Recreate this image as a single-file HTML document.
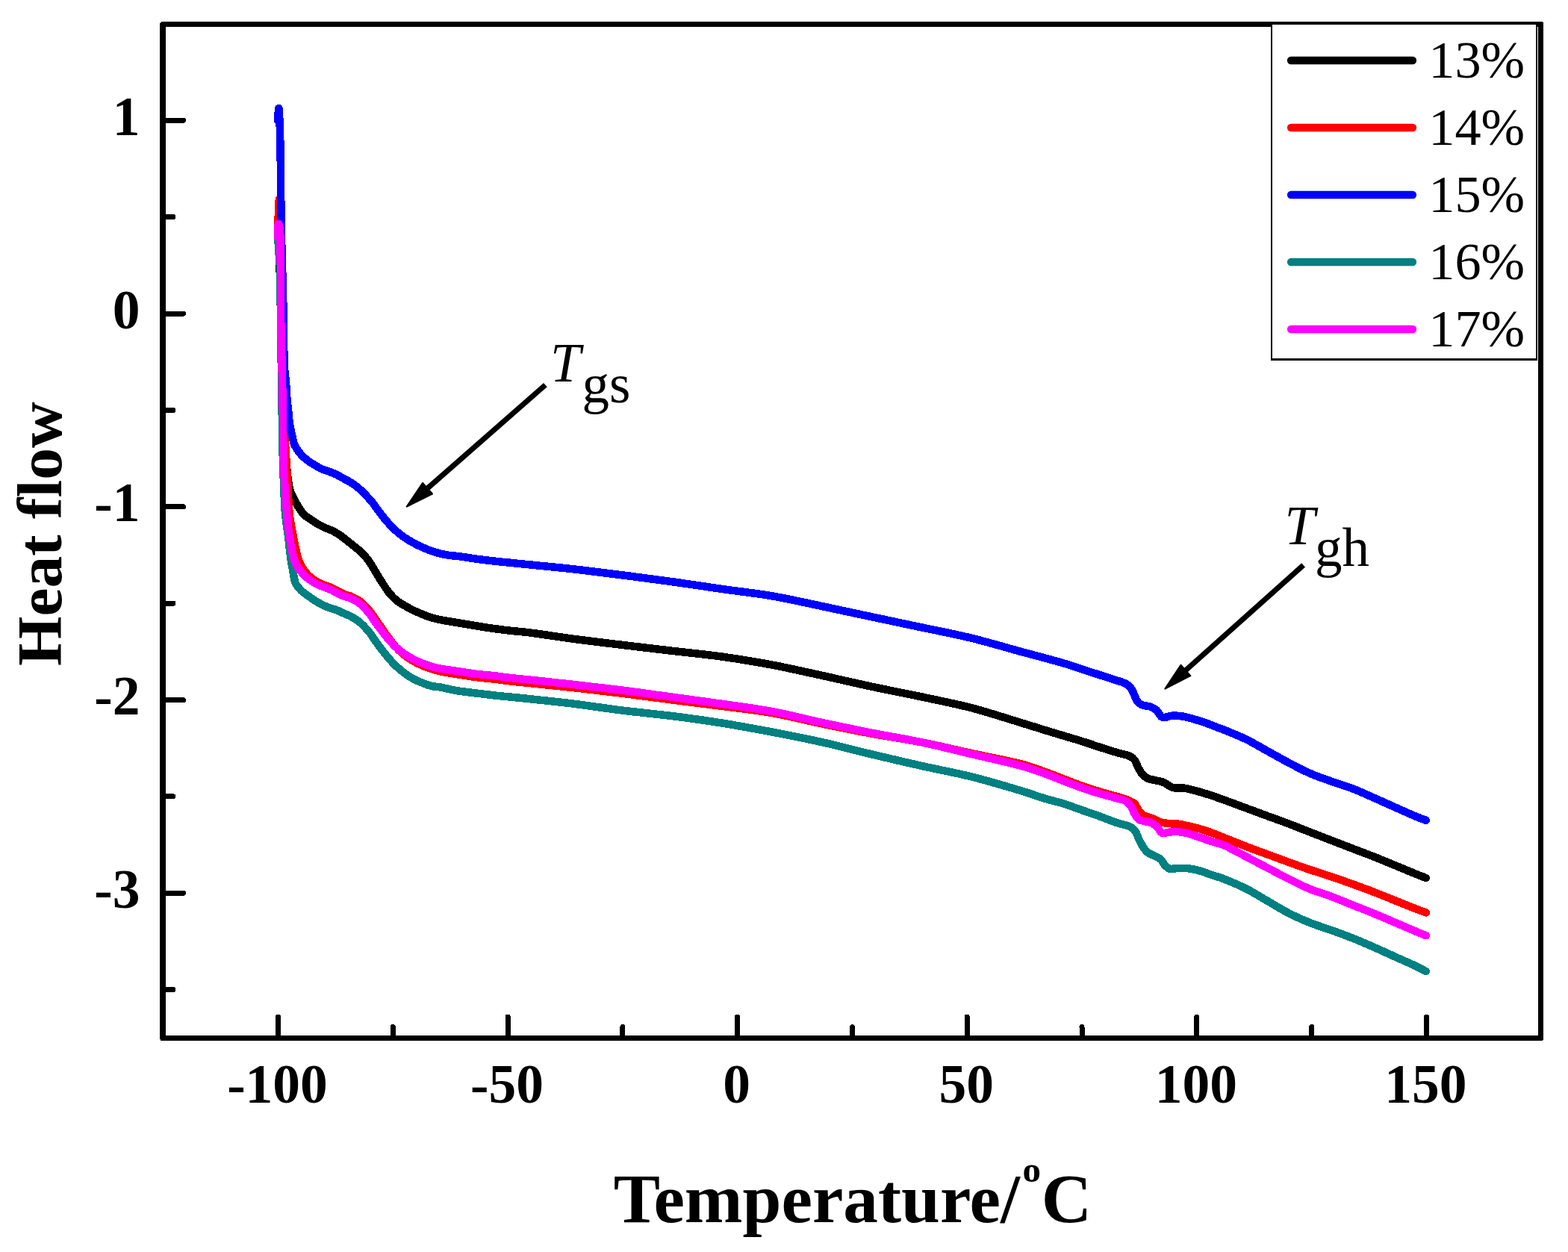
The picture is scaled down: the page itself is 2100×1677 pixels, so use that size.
<!DOCTYPE html>
<html lang="en">
<head>
<meta charset="utf-8">
<title>Heat flow vs Temperature</title>
<style>
html,body{margin:0;padding:0;background:#fff;}
body{width:2100px;height:1677px;overflow:hidden;}
svg{display:block;}
text{font-family:"Liberation Serif",serif;fill:#000;}
.tk{font-weight:bold;font-size:73.5px;}
.lg{font-size:70.3px;}
.an{font-size:73px;}
</style>
</head>
<body>
<svg width="2100" height="1677" viewBox="0 0 2100 1677">
<rect x="0" y="0" width="2100" height="1677" fill="#fff"/>
<g fill="none" stroke-linejoin="round" stroke-linecap="round" shape-rendering="crispEdges">
<path d="M372.4 322.0C372.9 328.0 373.8 334.0 374.0 340.0C375.0 366.7 375.4 393.3 376.0 420.0C376.7 453.3 377.0 486.7 378.0 520.0C378.6 540.0 379.9 560.0 381.0 580.0C381.7 592.0 382.5 604.0 383.4 616.0C383.8 622.3 384.2 628.7 384.9 635.0C385.6 641.4 386.3 647.8 387.7 654.0C388.5 657.4 390.0 660.5 391.5 663.6C394.0 668.8 396.6 674.0 399.6 678.9C401.9 682.6 404.2 686.4 407.3 689.5C410.0 692.2 413.6 694.0 416.8 696.2C419.9 698.3 423.0 700.5 426.3 702.4C429.4 704.2 432.6 705.7 435.9 707.2C439.0 708.6 442.3 709.5 445.4 711.0C448.7 712.7 451.9 714.6 455.0 716.7C458.3 718.9 461.4 721.5 464.5 723.9C467.7 726.4 470.9 728.9 474.0 731.5C477.2 734.1 480.6 736.6 483.6 739.5C487.0 742.8 490.3 746.4 493.1 750.2C496.7 755.1 499.5 760.4 502.7 765.5C505.9 770.7 508.9 775.9 512.2 781.0C515.3 785.7 518.3 790.5 521.8 794.8C524.7 798.3 527.8 801.6 531.3 804.5C534.4 807.1 538.1 808.9 541.6 811.0C545.5 813.3 549.4 815.5 553.5 817.5C557.4 819.4 561.4 821.1 565.4 822.7C569.3 824.3 573.3 825.8 577.3 827.1C581.2 828.3 585.3 829.3 589.3 830.1C597.2 831.7 605.2 832.9 613.1 834.2C621.1 835.6 629.0 836.9 637.0 838.2C644.9 839.5 652.8 840.8 660.8 841.9C668.8 843.0 676.7 844.0 684.7 844.9C692.7 845.8 700.7 846.3 708.6 847.3C728.0 849.8 747.4 853.0 766.8 855.6C789.0 858.6 811.3 861.2 833.6 863.9C855.9 866.6 878.1 869.2 900.4 871.8C922.7 874.4 945.0 876.5 967.2 879.6C989.5 882.7 1011.8 886.4 1034.0 890.6C1056.4 894.8 1078.6 900.0 1100.8 904.8C1123.1 909.7 1145.3 914.9 1167.6 919.7C1189.8 924.5 1212.2 928.7 1234.4 933.4C1256.7 938.2 1279.1 942.5 1301.1 948.2C1323.6 954.1 1345.7 961.5 1367.9 968.2C1378.6 971.5 1389.3 974.9 1400.0 978.2C1408.0 980.6 1415.9 983.0 1423.9 985.4C1431.8 987.8 1439.8 990.0 1447.7 992.5C1455.7 995.0 1463.6 997.8 1471.6 1000.4C1479.5 1003.0 1487.4 1005.5 1495.4 1007.9C1501.3 1009.7 1507.6 1010.5 1513.3 1013.0C1516.0 1014.1 1518.3 1016.2 1520.0 1018.5C1521.9 1021.1 1522.4 1024.6 1524.0 1027.5C1525.8 1030.8 1527.6 1034.2 1530.0 1037.1C1531.8 1039.3 1534.1 1041.2 1536.6 1042.5C1539.5 1043.9 1542.9 1044.2 1546.0 1045.0C1550.0 1046.0 1554.2 1046.3 1558.0 1047.8C1562.5 1049.6 1566.0 1053.6 1570.6 1054.9C1575.2 1056.2 1580.2 1054.8 1584.9 1055.5C1591.0 1056.4 1596.9 1058.0 1602.8 1059.6C1608.8 1061.2 1614.8 1063.1 1620.7 1065.0C1627.2 1067.1 1633.6 1069.4 1640.0 1071.7C1649.6 1075.2 1659.1 1078.8 1668.6 1082.3C1678.1 1085.8 1687.7 1089.4 1697.2 1092.9C1706.8 1096.4 1716.4 1099.8 1725.9 1103.4C1735.5 1107.0 1745.0 1110.9 1754.5 1114.6C1764.0 1118.3 1773.6 1122.0 1783.1 1125.7C1792.6 1129.4 1802.2 1133.0 1811.7 1136.7C1821.3 1140.4 1830.9 1143.9 1840.4 1147.7C1850.0 1151.5 1859.5 1155.5 1869.0 1159.4C1878.5 1163.3 1888.0 1167.4 1897.6 1171.3C1901.6 1172.9 1905.7 1174.4 1909.8 1175.9" stroke="#000000" stroke-width="10.5"/>
<path d="M373.8 267.0C373.5 273.0 373.2 279.0 373.0 285.0C372.7 291.7 372.0 298.3 372.3 305.0C372.8 315.0 375.1 325.0 375.5 335.0C376.7 363.3 376.4 391.7 377.0 420.0C377.6 446.7 378.3 473.3 379.0 500.0C379.6 523.3 380.2 546.7 381.0 570.0C381.4 582.0 382.0 594.0 382.7 606.0C383.4 618.8 384.3 631.7 385.1 644.5C386.0 659.7 386.3 674.9 387.9 690.0C388.9 699.4 391.0 708.7 392.7 718.0C393.7 723.7 394.7 729.4 396.0 735.0C397.2 740.0 398.2 745.1 400.0 750.0C401.6 754.2 403.6 758.3 406.0 762.0C408.3 765.5 411.0 768.6 414.0 771.5C416.7 774.1 419.8 776.5 423.0 778.5C426.0 780.3 429.3 781.7 432.5 783.0C435.6 784.3 438.9 785.0 442.0 786.3C445.3 787.7 448.3 789.4 451.5 791.0C454.7 792.6 457.7 794.4 461.0 795.8C464.4 797.3 468.1 797.9 471.5 799.5C475.7 801.5 479.9 803.6 483.5 806.5C488.0 810.1 491.9 814.5 495.5 819.0C499.9 824.4 503.5 830.3 507.5 836.0C511.4 841.5 515.0 847.1 519.0 852.5C522.5 857.3 526.0 862.1 530.0 866.5C533.6 870.5 537.5 874.1 541.6 877.5C545.3 880.5 549.4 883.1 553.5 885.5C557.3 887.7 561.3 889.6 565.4 891.4C569.3 893.1 573.3 894.6 577.3 895.9C581.2 897.2 585.2 898.4 589.3 899.2C597.2 900.8 605.2 902.0 613.1 903.3C621.1 904.6 629.0 906.0 637.0 907.0C644.9 908.0 652.9 908.6 660.8 909.5C668.8 910.4 676.7 911.6 684.7 912.5C692.7 913.4 700.6 914.2 708.6 915.0C728.0 917.0 747.4 918.9 766.8 921.0C789.1 923.5 811.4 926.1 833.6 928.8C855.9 931.6 878.1 934.6 900.4 937.5C922.7 940.3 944.9 943.0 967.2 945.9C989.5 948.8 1011.9 951.1 1034.0 955.0C1056.4 958.9 1078.5 964.8 1100.8 969.4C1123.0 974.0 1145.3 978.5 1167.6 982.7C1189.8 986.8 1212.2 989.9 1234.4 994.3C1256.7 998.7 1278.9 1004.2 1301.1 1009.0C1323.4 1013.9 1345.8 1017.8 1367.9 1023.4C1378.8 1026.2 1389.4 1030.2 1400.0 1034.0C1408.0 1036.8 1415.9 1040.2 1423.9 1043.2C1431.8 1046.2 1439.7 1049.4 1447.7 1052.2C1455.6 1055.0 1463.6 1057.5 1471.6 1060.0C1479.5 1062.4 1487.5 1064.5 1495.4 1066.8C1499.4 1068.0 1503.4 1068.9 1507.3 1070.4C1511.4 1072.0 1515.9 1073.4 1519.3 1076.3C1522.1 1078.8 1522.9 1082.9 1525.2 1085.9C1526.9 1088.1 1528.8 1090.4 1531.2 1091.8C1534.9 1093.9 1539.2 1094.4 1543.1 1096.0C1547.2 1097.6 1550.9 1100.1 1555.1 1101.4C1558.9 1102.6 1563.0 1102.8 1567.0 1103.2C1571.0 1103.6 1575.0 1103.3 1578.9 1103.8C1582.9 1104.3 1586.8 1105.3 1590.8 1106.2C1594.8 1107.1 1598.8 1108.0 1602.8 1109.1C1606.8 1110.2 1610.8 1111.4 1614.7 1112.7C1618.7 1114.0 1622.7 1115.4 1626.6 1116.9C1631.1 1118.6 1635.5 1120.4 1640.0 1122.2C1649.5 1126.0 1659.0 1130.0 1668.6 1133.7C1678.1 1137.4 1687.7 1140.8 1697.2 1144.3C1706.8 1147.8 1716.3 1151.4 1725.9 1154.9C1735.4 1158.3 1744.9 1161.8 1754.5 1165.0C1764.0 1168.2 1773.6 1171.1 1783.1 1174.3C1792.7 1177.5 1802.2 1180.9 1811.7 1184.3C1821.3 1187.8 1830.9 1191.3 1840.4 1195.0C1850.0 1198.7 1859.5 1202.7 1869.0 1206.5C1878.5 1210.3 1888.0 1214.2 1897.6 1217.9C1901.6 1219.5 1905.7 1220.9 1909.8 1222.4" stroke="#ff0000" stroke-width="10.5"/>
<path d="M372.0 161.0C372.5 156.0 373.1 141.0 373.5 146.0C375.1 163.9 375.1 182.0 375.5 200.0C376.2 233.3 376.1 266.7 376.6 300.0C376.8 313.3 377.3 326.7 377.6 340.0C377.9 351.3 378.2 362.7 378.5 374.0C378.9 389.3 379.3 404.7 379.6 420.0C380.0 441.0 380.0 462.0 380.5 483.0C380.6 488.3 381.1 493.7 381.5 499.0C381.7 501.7 382.2 504.3 382.5 507.0C382.9 511.0 383.2 515.0 383.5 519.0C383.8 522.7 383.8 526.3 384.1 530.0C384.6 536.3 385.4 542.7 386.0 549.0C386.7 555.3 387.0 561.7 388.0 568.0C389.0 574.5 390.5 580.9 392.0 587.3C392.8 590.5 393.3 593.9 394.8 596.8C397.1 601.3 400.1 605.4 403.4 609.2C405.9 612.1 409.0 614.5 412.0 616.8C415.0 619.1 418.3 621.0 421.6 623.0C424.7 624.9 427.8 626.8 431.1 628.3C434.2 629.7 437.5 630.4 440.6 631.6C443.8 632.8 447.1 633.9 450.2 635.4C453.5 637.0 456.5 639.0 459.7 640.7C462.9 642.5 466.2 644.0 469.3 645.9C472.6 647.9 475.8 650.1 478.8 652.6C482.2 655.4 485.3 658.6 488.4 661.7C491.7 665.0 494.9 668.4 497.9 672.0C500.7 675.4 503.1 679.3 505.8 682.8C509.7 687.9 513.5 693.1 517.7 698.0C521.4 702.3 525.4 706.5 529.6 710.4C533.4 713.8 537.4 717.0 541.6 719.9C545.4 722.6 549.4 724.9 553.5 727.1C557.4 729.2 561.4 731.2 565.4 733.0C569.3 734.8 573.3 736.4 577.3 737.8C581.2 739.2 585.2 740.4 589.3 741.4C593.2 742.4 597.2 743.2 601.2 743.8C605.1 744.4 609.1 744.5 613.1 745.0C621.1 746.0 629.0 747.4 637.0 748.5C644.9 749.6 652.9 750.6 660.8 751.5C668.8 752.4 676.7 753.1 684.7 753.9C692.7 754.7 700.6 755.5 708.6 756.3C728.0 758.3 747.4 760.0 766.8 762.2C789.1 764.7 811.3 767.6 833.6 770.4C855.9 773.2 878.2 776.1 900.4 779.2C922.7 782.3 944.9 785.8 967.2 789.0C989.5 792.2 1011.8 794.5 1034.0 798.3C1056.4 802.2 1078.6 807.3 1100.8 812.0C1123.1 816.7 1145.3 821.6 1167.6 826.3C1189.9 831.0 1212.1 835.7 1234.4 840.4C1256.6 845.1 1279.0 849.3 1301.1 854.7C1323.5 860.2 1345.6 866.9 1367.9 873.0C1378.6 875.9 1389.3 878.7 1400.0 881.6C1408.0 883.8 1416.0 885.8 1423.9 888.2C1431.9 890.6 1439.8 893.3 1447.7 895.9C1455.7 898.5 1463.6 901.1 1471.6 903.7C1479.5 906.3 1487.5 908.8 1495.4 911.4C1499.4 912.7 1503.6 913.6 1507.3 915.6C1510.1 917.1 1512.6 919.1 1514.5 921.6C1516.7 924.4 1517.7 927.9 1519.3 931.1C1520.9 934.3 1521.7 937.9 1524.0 940.6C1525.8 942.7 1528.6 943.9 1531.2 944.8C1534.2 945.9 1537.7 945.5 1540.7 946.6C1543.7 947.7 1546.7 949.2 1549.1 951.4C1551.6 953.7 1552.5 957.4 1555.1 959.7C1556.3 960.8 1558.2 961.0 1559.8 960.9C1562.3 960.8 1564.6 959.5 1567.0 959.1C1569.0 958.7 1571.0 958.4 1573.0 958.5C1577.0 958.6 1581.0 959.0 1584.9 959.7C1588.9 960.4 1592.9 961.6 1596.8 962.7C1600.8 963.8 1604.8 965.0 1608.7 966.3C1612.7 967.6 1616.7 969.0 1620.7 970.5C1624.7 972.0 1628.6 973.7 1632.6 975.2C1635.1 976.1 1637.6 976.9 1640.0 977.9C1649.6 981.9 1659.3 985.6 1668.6 990.1C1678.4 994.9 1687.7 1000.6 1697.2 1005.8C1706.8 1011.1 1716.2 1016.5 1725.9 1021.6C1735.3 1026.6 1744.7 1031.6 1754.5 1035.9C1763.8 1040.0 1773.5 1043.2 1783.1 1046.6C1792.6 1050.0 1802.3 1052.8 1811.7 1056.4C1821.4 1060.2 1830.9 1064.6 1840.4 1068.8C1850.0 1073.0 1859.5 1077.4 1869.0 1081.6C1878.5 1085.8 1888.0 1090.2 1897.6 1094.2C1901.6 1095.9 1905.7 1097.3 1909.8 1098.8" stroke="#0000ff" stroke-width="10.5"/>
<path d="M372.4 322.0C372.9 329.7 373.5 337.3 374.0 345.0C374.4 351.7 375.2 358.3 375.3 365.0C375.8 390.0 375.7 415.0 376.0 440.0C376.3 460.0 376.7 480.0 377.0 500.0C377.5 533.3 377.8 566.7 378.5 600.0C378.9 620.0 379.7 640.0 380.5 660.0C380.9 670.0 381.3 680.0 382.2 690.0C383.1 699.4 384.8 708.7 386.0 718.0C387.1 727.0 387.8 736.0 389.0 745.0C389.9 752.0 391.2 759.0 392.5 765.9C393.5 771.0 393.7 776.3 395.8 781.0C397.5 784.8 400.5 788.0 403.4 791.0C405.9 793.6 409.1 795.5 412.0 797.6C415.2 799.9 418.3 802.2 421.6 804.3C424.7 806.3 427.8 808.1 431.1 809.8C434.2 811.4 437.4 812.8 440.6 814.0C443.7 815.2 447.1 815.7 450.2 816.9C453.5 818.1 456.5 819.8 459.7 821.2C463.1 822.7 466.7 824.0 470.0 825.8C474.1 828.1 478.3 830.5 481.9 833.5C486.3 837.2 490.2 841.5 493.9 846.0C498.2 851.3 501.7 857.3 505.8 862.8C509.7 868.0 513.5 873.3 517.7 878.3C521.5 882.8 525.4 887.3 529.6 891.4C533.4 895.0 537.4 898.4 541.6 901.5C545.4 904.3 549.3 907.0 553.5 909.3C557.3 911.4 561.4 913.0 565.4 914.6C569.3 916.2 573.2 917.8 577.3 918.8C581.2 919.8 585.3 919.7 589.3 920.4C593.3 921.1 597.2 922.2 601.2 923.0C605.2 923.8 609.1 924.8 613.1 925.4C621.0 926.6 629.0 927.4 637.0 928.4C644.9 929.4 652.9 930.4 660.8 931.3C668.8 932.2 676.7 932.9 684.7 933.7C692.7 934.5 700.6 935.2 708.6 936.1C728.0 938.2 747.4 940.1 766.8 942.5C789.1 945.3 811.3 948.8 833.6 951.6C855.8 954.4 878.2 956.3 900.4 959.1C922.7 961.9 945.0 965.0 967.2 968.6C989.5 972.2 1011.8 976.3 1034.0 980.5C1056.3 984.8 1078.6 989.1 1100.8 994.1C1123.2 999.1 1145.3 1005.1 1167.6 1010.4C1189.8 1015.7 1212.1 1020.9 1234.4 1025.9C1256.6 1030.9 1279.0 1034.9 1301.1 1040.4C1323.5 1046.0 1345.7 1052.7 1367.9 1059.3C1378.7 1062.5 1389.2 1066.5 1400.0 1069.8C1407.9 1072.2 1416.0 1073.8 1423.9 1076.3C1431.9 1078.8 1439.8 1081.9 1447.7 1084.7C1455.7 1087.5 1463.7 1090.1 1471.6 1093.0C1479.6 1095.9 1487.4 1099.2 1495.4 1102.0C1501.3 1104.0 1507.6 1104.7 1513.3 1107.3C1516.1 1108.6 1518.7 1110.8 1520.5 1113.3C1522.8 1116.5 1523.5 1120.5 1525.2 1124.0C1527.0 1127.7 1528.9 1131.4 1531.2 1134.8C1532.9 1137.4 1534.7 1140.0 1537.2 1141.9C1540.0 1144.1 1543.6 1145.0 1546.7 1146.7C1549.5 1148.2 1552.7 1149.3 1555.1 1151.5C1557.2 1153.4 1557.8 1156.5 1559.8 1158.6C1561.9 1160.8 1564.2 1163.0 1567.0 1164.0C1568.9 1164.7 1571.0 1163.5 1573.0 1163.4C1577.0 1163.1 1580.9 1162.7 1584.9 1162.8C1588.9 1162.9 1592.9 1163.3 1596.8 1164.0C1600.8 1164.7 1604.8 1165.8 1608.7 1167.0C1612.8 1168.2 1616.7 1169.9 1620.7 1171.2C1624.6 1172.5 1628.6 1173.7 1632.6 1175.0C1635.1 1175.8 1637.6 1176.6 1640.0 1177.6C1649.6 1181.7 1659.3 1185.5 1668.6 1190.2C1678.4 1195.2 1687.7 1201.1 1697.2 1206.6C1706.8 1212.1 1716.1 1218.1 1725.9 1223.1C1735.2 1227.9 1744.8 1232.1 1754.5 1236.0C1763.9 1239.8 1773.6 1242.6 1783.1 1246.0C1792.7 1249.5 1802.2 1252.9 1811.7 1256.7C1821.4 1260.6 1830.9 1264.7 1840.4 1268.9C1850.0 1273.1 1859.5 1277.5 1869.0 1281.8C1878.5 1286.1 1888.1 1290.2 1897.6 1294.7C1901.8 1296.7 1905.7 1299.0 1909.8 1301.1" stroke="#008080" stroke-width="10.5"/>
<path d="M372.0 318.0C372.5 312.3 371.9 295.5 373.5 301.0C376.2 310.3 375.3 320.3 375.5 330.0C376.1 360.0 375.6 390.0 376.0 420.0C376.6 456.7 377.8 493.3 378.5 530.0C379.1 561.7 378.9 593.3 380.0 625.0C380.6 643.4 382.4 661.7 383.6 680.0C384.0 686.3 384.3 692.7 385.0 699.0C385.7 705.4 386.7 711.8 387.7 718.2C388.7 724.6 389.6 731.0 391.0 737.3C392.3 743.1 393.4 749.0 395.8 754.4C397.6 758.6 400.5 762.3 403.4 765.9C405.9 769.1 408.9 771.9 412.0 774.5C415.0 777.0 418.2 779.2 421.6 781.1C424.6 782.8 427.9 784.1 431.1 785.4C434.2 786.7 437.5 787.5 440.6 788.8C443.9 790.2 447.0 791.9 450.2 793.5C453.4 795.1 456.4 797.0 459.7 798.3C463.0 799.6 466.7 800.0 470.0 801.5C474.2 803.4 478.3 805.6 481.9 808.5C486.4 812.2 490.2 816.5 493.9 821.0C498.2 826.3 501.7 832.2 505.8 837.7C509.7 842.9 513.5 848.2 517.7 853.2C521.5 857.7 525.3 862.2 529.6 866.3C533.3 869.8 537.4 873.0 541.6 875.9C545.4 878.5 549.4 880.9 553.5 883.0C557.4 885.0 561.4 886.8 565.4 888.4C569.3 890.0 573.3 891.4 577.3 892.6C581.2 893.8 585.2 894.9 589.3 895.6C597.2 897.0 605.2 897.9 613.1 899.1C621.1 900.3 629.0 901.7 637.0 902.7C644.9 903.7 652.9 904.2 660.8 905.1C668.8 906.0 676.7 907.2 684.7 908.1C692.7 909.0 700.6 909.7 708.6 910.5C728.0 912.6 747.4 914.6 766.8 916.8C789.1 919.3 811.4 921.8 833.6 924.6C855.9 927.4 878.1 930.7 900.4 933.7C922.7 936.8 945.0 939.7 967.2 942.9C989.5 946.1 1011.9 948.9 1034.0 953.0C1056.4 957.2 1078.5 963.1 1100.8 967.9C1123.0 972.7 1145.3 977.3 1167.6 981.7C1189.8 986.1 1212.2 989.6 1234.4 994.3C1256.7 999.0 1278.9 1004.7 1301.1 1010.0C1323.4 1015.3 1345.8 1020.0 1367.9 1025.9C1378.8 1028.8 1389.4 1032.7 1400.0 1036.5C1408.1 1039.4 1415.9 1042.8 1423.9 1045.9C1431.8 1049.0 1439.7 1052.1 1447.7 1054.9C1455.6 1057.7 1463.6 1060.2 1471.6 1062.6C1479.5 1065.0 1487.5 1066.9 1495.4 1069.2C1499.4 1070.3 1503.7 1070.8 1507.3 1072.8C1510.2 1074.4 1512.5 1077.2 1514.5 1079.9C1516.6 1082.8 1517.5 1086.4 1519.3 1089.5C1521.0 1092.4 1522.5 1095.8 1525.2 1097.8C1527.5 1099.5 1530.8 1099.4 1533.6 1100.2C1536.8 1101.0 1540.2 1101.1 1543.1 1102.6C1545.9 1104.0 1548.1 1106.3 1550.3 1108.5C1552.5 1110.7 1553.4 1114.3 1556.2 1115.7C1558.4 1116.8 1561.0 1115.4 1563.4 1115.1C1566.6 1114.8 1569.8 1113.9 1573.0 1113.9C1577.0 1113.9 1581.0 1114.4 1584.9 1115.1C1588.9 1115.8 1592.9 1116.9 1596.8 1118.1C1600.8 1119.3 1604.7 1120.9 1608.7 1122.3C1612.7 1123.7 1616.7 1125.1 1620.7 1126.4C1624.6 1127.7 1628.6 1128.8 1632.6 1130.0C1635.1 1130.8 1637.7 1131.3 1640.0 1132.4C1649.7 1137.1 1659.1 1142.3 1668.6 1147.3C1678.1 1152.3 1687.7 1157.3 1697.2 1162.3C1706.8 1167.3 1716.2 1172.5 1725.9 1177.3C1735.3 1182.0 1744.7 1186.9 1754.5 1190.9C1763.8 1194.8 1773.6 1197.3 1783.1 1200.9C1792.7 1204.5 1802.2 1208.6 1811.7 1212.4C1821.3 1216.2 1830.9 1219.9 1840.4 1223.8C1850.0 1227.7 1859.5 1231.9 1869.0 1236.0C1878.5 1240.1 1888.0 1244.2 1897.6 1248.2C1901.6 1249.9 1905.7 1251.5 1909.8 1253.2" stroke="#ff00ff" stroke-width="10.5"/>
</g>
<g stroke="#000" fill="none" shape-rendering="crispEdges">
<rect x="218.0" y="32.5" width="1845.5" height="1358.0" stroke-width="7.5" stroke-linejoin="round"/>
</g>
<g stroke="#000" stroke-width="7" stroke-linecap="round" shape-rendering="crispEdges">
<line x1="372.5" y1="1390.5" x2="372.5" y2="1362"/>
<line x1="526.3" y1="1390.5" x2="526.3" y2="1375.5"/>
<line x1="680.1" y1="1390.5" x2="680.1" y2="1362"/>
<line x1="833.9" y1="1390.5" x2="833.9" y2="1375.5"/>
<line x1="987.7" y1="1390.5" x2="987.7" y2="1362"/>
<line x1="1141.5" y1="1390.5" x2="1141.5" y2="1375.5"/>
<line x1="1295.2" y1="1390.5" x2="1295.2" y2="1362"/>
<line x1="1449.0" y1="1390.5" x2="1449.0" y2="1375.5"/>
<line x1="1602.8" y1="1390.5" x2="1602.8" y2="1362"/>
<line x1="1756.6" y1="1390.5" x2="1756.6" y2="1375.5"/>
<line x1="1910.4" y1="1390.5" x2="1910.4" y2="1362"/>
<line x1="218.0" y1="161.3" x2="245.5" y2="161.3"/>
<line x1="218.0" y1="290.7" x2="232" y2="290.7"/>
<line x1="218.0" y1="420.0" x2="245.5" y2="420.0"/>
<line x1="218.0" y1="549.4" x2="232" y2="549.4"/>
<line x1="218.0" y1="678.7" x2="245.5" y2="678.7"/>
<line x1="218.0" y1="808.1" x2="232" y2="808.1"/>
<line x1="218.0" y1="937.5" x2="245.5" y2="937.5"/>
<line x1="218.0" y1="1066.8" x2="232" y2="1066.8"/>
<line x1="218.0" y1="1196.2" x2="245.5" y2="1196.2"/>
<line x1="218.0" y1="1325.5" x2="232" y2="1325.5"/>
</g>
<text class="tk" x="371.5" y="1476.5" text-anchor="middle">-100</text>
<text class="tk" x="679.1" y="1476.5" text-anchor="middle">-50</text>
<text class="tk" x="986.7" y="1476.5" text-anchor="middle">0</text>
<text class="tk" x="1294.2" y="1476.5" text-anchor="middle">50</text>
<text class="tk" x="1601.8" y="1476.5" text-anchor="middle">100</text>
<text class="tk" x="1909.4" y="1476.5" text-anchor="middle">150</text>
<text class="tk" x="187.5" y="180.8" text-anchor="end">1</text>
<text class="tk" x="187.5" y="439.5" text-anchor="end">0</text>
<text class="tk" x="187.5" y="698.2" text-anchor="end">-1</text>
<text class="tk" x="187.5" y="957.0" text-anchor="end">-2</text>
<text class="tk" x="187.5" y="1215.7" text-anchor="end">-3</text>
<text x="821.8" y="1636.5" font-weight="bold" font-size="93.3"><tspan>Temperature/</tspan><tspan x="1369.5" font-size="49" dy="-54">o</tspan><tspan x="1394.8" dy="54">C</tspan></text>
<text transform="translate(82,892) rotate(-90)" font-weight="bold" font-size="85.5">Heat flow</text>
<rect x="1702.9" y="32" width="355.1" height="449.5" fill="#fff" stroke="#000" stroke-width="2.8" shape-rendering="crispEdges"/>
<line x1="1729" y1="81" x2="1892" y2="81" stroke="#000000" stroke-width="10.3" stroke-linecap="round"/>
<text class="lg" x="1913.3" y="104.2">13%</text>
<line x1="1729" y1="171" x2="1892" y2="171" stroke="#ff0000" stroke-width="10.3" stroke-linecap="round"/>
<text class="lg" x="1913.3" y="194.2">14%</text>
<line x1="1729" y1="261" x2="1892" y2="261" stroke="#0000ff" stroke-width="10.3" stroke-linecap="round"/>
<text class="lg" x="1913.3" y="284.2">15%</text>
<line x1="1729" y1="351" x2="1892" y2="351" stroke="#008080" stroke-width="10.3" stroke-linecap="round"/>
<text class="lg" x="1913.3" y="374.2">16%</text>
<line x1="1729" y1="441" x2="1892" y2="441" stroke="#ff00ff" stroke-width="10.3" stroke-linecap="round"/>
<text class="lg" x="1913.3" y="464.2">17%</text>
<text class="an" x="737" y="511"><tspan font-style="italic">T</tspan><tspan x="779.5" dy="28">gs</tspan></text>
<text class="an" x="1720.5" y="728.5"><tspan font-style="italic">T</tspan><tspan dy="29">gh</tspan></text>
<line x1="730.4" y1="515.6" x2="569.5" y2="656.8" stroke="#000" stroke-width="7.2"/><polygon points="544.7,678.6 566.1,646.9 579.0,661.5" fill="#000" stroke="#000" stroke-width="2" stroke-linejoin="round"/>
<line x1="1745.6" y1="757.0" x2="1584.9" y2="900.6" stroke="#000" stroke-width="7.2"/><polygon points="1560.3,922.6 1581.4,890.7 1594.4,905.2" fill="#000" stroke="#000" stroke-width="2" stroke-linejoin="round"/>
</svg>
</body>
</html>
